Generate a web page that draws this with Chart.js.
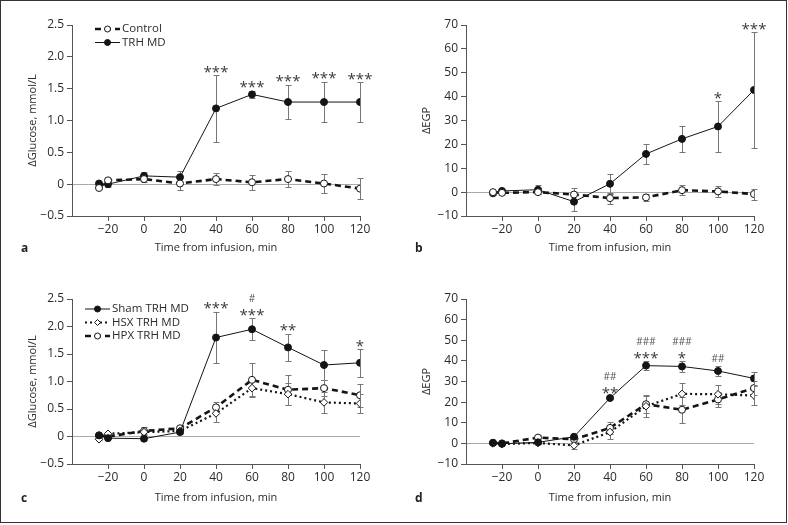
<!DOCTYPE html>
<html>
<head>
<meta charset="utf-8">
<script src="https://cdn.jsdelivr.net/npm/chart.js@4.4.0/dist/chart.umd.min.js"></script>
<style>
  body { margin: 0; background: #fff; font-family: "Open Sans", sans-serif; }
  #moldura { position: absolute; left: 0; top: 0; width: 785px; height: 521px; border: 1.5px solid #333; }
  canvas { position: absolute; }
  .letra { position: absolute; font-weight: bold; font-size: 12px; color: #222; }
</style>
</head>
<body>
<div id="moldura"></div>
<canvas id="ca" width="394" height="262" style="left:0;top:0"></canvas>
<canvas id="cb" width="394" height="262" style="left:394px;top:0"></canvas>
<canvas id="cc" width="394" height="263" style="left:0;top:262px"></canvas>
<canvas id="cd" width="394" height="263" style="left:394px;top:262px"></canvas>
<div class="letra" style="left:21px;top:239px">a</div>
<div class="letra" style="left:415px;top:239px">b</div>
<div class="letra" style="left:21px;top:489px">c</div>
<div class="letra" style="left:415px;top:489px">d</div>
<script>
/* Tempos de coleta (min) */
const TIMES = [-25, -20, 0, 20, 40, 60, 80, 100, 120];

/* a: ΔGlucose */
const A_CONTROL = [-0.06, 0.06, 0.08, 0.01, 0.08, 0.03, 0.08, 0.01, -0.07];
const A_CONTROL_SE = [0.02, 0.03, 0.05, 0.10, 0.09, 0.12, 0.12, 0.15, 0.17];
const A_TRH = [0.01, 0.00, 0.13, 0.11, 1.19, 1.41, 1.29, 1.29, 1.29];
const A_TRH_SE = [0.03, 0.04, 0.06, 0.10, 0.52, 0.06, 0.27, 0.32, 0.31];
const A_STARS = ['', '', '', '', '***', '***', '***', '***', '***'];

/* b: ΔEGP */
const B_CONTROL = [0.0, -0.3, 0.0, -1.0, -2.5, -2.2, 0.8, 0.3, -0.8];
const B_CONTROL_SE = [0.5, 0.5, 0.8, 2.7, 2.3, 1.5, 2.0, 2.4, 2.3];
const B_TRH = [-0.5, 0.5, 1.0, -4.0, 3.5, 16.0, 22.3, 27.5, 42.8];
const B_TRH_SE = [0.5, 0.5, 1.8, 4.0, 4.3, 4.3, 5.6, 10.5, 24.2];
const B_STARS = ['', '', '', '', '', '', '', '*', '***'];

/* c: ΔGlucose, três grupos */
const C_SHAM = [0.02, -0.03, -0.04, 0.08, 1.80, 1.95, 1.62, 1.30, 1.34];
const C_SHAM_SE = [0.02, 0.02, 0.03, 0.04, 0.47, 0.20, 0.25, 0.27, 0.25];
const C_HSX = [-0.05, 0.05, 0.08, 0.10, 0.42, 0.88, 0.77, 0.62, 0.60];
const C_HSX_SE = [0.02, 0.02, 0.04, 0.04, 0.15, 0.15, 0.20, 0.19, 0.17];
const C_HPX = [0.02, 0.00, 0.10, 0.15, 0.53, 1.03, 0.85, 0.88, 0.75];
const C_HPX_SE = [0.02, 0.02, 0.08, 0.06, 0.10, 0.31, 0.27, 0.15, 0.21];
const C_STARS = ['', '', '', '', '***', '***', '**', '', '*'];
const C_HASH = ['', '', '', '', '', '#', '', '', ''];

/* d: ΔEGP, três grupos */
const D_SHAM = [0.3, -0.2, 0.5, 3.2, 22.0, 37.7, 37.3, 35.1, 31.5];
const D_SHAM_SE = [0.5, 0.5, 0.8, 1.0, 0.6, 2.0, 2.5, 2.3, 3.0];
const D_HSX = [0.0, -0.3, 0.2, -1.0, 5.5, 18.0, 24.0, 23.8, 23.2];
const D_HSX_SE = [0.4, 0.4, 0.6, 1.8, 3.5, 5.0, 5.5, 4.5, 4.5];
const D_HPX = [0.2, 0.0, 2.8, 2.0, 7.5, 19.0, 16.3, 21.3, 26.8];
const D_HPX_SE = [0.4, 0.4, 1.3, 1.0, 3.0, 4.3, 6.3, 3.5, 3.5];
const D_STARS = ['', '', '', '', '**', '***', '*', '', ''];
const D_HASH = ['', '', '', '', '##', '###', '###', '##', ''];

const X_TICKS = [-20, 0, 20, 40, 60, 80, 100, 120];

Chart.defaults.font.family = "'Open Sans', sans-serif";
Chart.defaults.font.size = 11;
Chart.defaults.color = '#2b2b2b';

const INK = '#141414';
const AXIS = '#555';
const ERR = '#777';
const MINUS = '\u2212';

const ESTILOS = {
  cheia: { borderWidth: 1, borderDash: [], pointStyle: 'circle', pointBackgroundColor: INK, pointRadius: 3.5 },
  tracejada: { borderWidth: 2.6, borderDash: [6, 4], pointStyle: 'circle', pointBackgroundColor: '#fff', pointRadius: 3.5 },
  pontilhada: { borderWidth: 2.2, borderDash: [2, 3], pointStyle: 'rectRot', pointBackgroundColor: '#fff', pointRadius: 3.8 },
};

function serie(label, valores, se, estilo) {
  return Object.assign({
    label,
    data: TIMES.map((t, i) => ({ x: t, y: valores[i] })),
    errors: se,
    borderColor: INK,
    pointBorderColor: INK,
    pointBorderWidth: 1,
    pointHoverRadius: 3.5,
    tension: 0,
  }, ESTILOS[estilo]);
}

function fmtY(v, passo) {
  if (v === 0) return '0';
  const s = passo < 1 ? Math.abs(v).toFixed(1) : String(Math.abs(v));
  return (v < 0 ? MINUS : '') + s;
}

function marcador(ctx, estilo, x, y, r, fundo) {
  ctx.beginPath();
  if (estilo === 'rectRot') {
    ctx.moveTo(x, y - r); ctx.lineTo(x + r, y); ctx.lineTo(x, y + r); ctx.lineTo(x - r, y); ctx.closePath();
  } else {
    ctx.arc(x, y, r, 0, Math.PI * 2);
  }
  ctx.setLineDash([]);
  ctx.fillStyle = fundo;
  ctx.fill();
  ctx.lineWidth = 1;
  ctx.strokeStyle = INK;
  ctx.stroke();
}

/* barras de erro, asteriscos e legenda */
function extras(cfg) {
  return {
    id: 'extras',
    beforeDatasetsDraw(chart) {
      const { ctx, scales: { x, y } } = chart;
      ctx.save();
      ctx.strokeStyle = ERR;
      ctx.lineWidth = 1;
      chart.data.datasets.forEach(ds => {
        ds.data.forEach((p, i) => {
          const e = ds.errors[i];
          const px = Math.round(x.getPixelForValue(p.x)) + 0.5;
          const top = Math.round(y.getPixelForValue(p.y + e)) + 0.5;
          const bot = Math.round(y.getPixelForValue(p.y - e)) + 0.5;
          ctx.beginPath();
          ctx.moveTo(px, top); ctx.lineTo(px, bot);
          ctx.moveTo(px - 3, top); ctx.lineTo(px + 3, top);
          ctx.moveTo(px - 3, bot); ctx.lineTo(px + 3, bot);
          ctx.stroke();
        });
      });
      ctx.restore();
    },
    afterDatasetsDraw(chart) {
      const { ctx, scales: { x, y } } = chart;
      const principal = chart.data.datasets[cfg.ref];
      ctx.save();
      ctx.textAlign = 'center';
      ctx.textBaseline = 'alphabetic';
      TIMES.forEach((t, i) => {
        const px = x.getPixelForValue(t);
        const topo = y.getPixelForValue(principal.data[i].y + principal.errors[i]);
        const st = cfg.stars[i];
        const hs = cfg.hash ? cfg.hash[i] : '';
        let centro;
        if (st) {
          ctx.font = "15px 'Open Sans'";
          ctx.fillStyle = '#3a3a3a';
          ctx.fillText(st, px, topo + 1.5);
          centro = topo - 7 - 13;
        } else {
          centro = topo - 8;
        }
        if (hs) {
          ctx.font = "10px 'Open Sans'";
          ctx.fillStyle = '#555';
          ctx.fillText(hs, px, centro + 3.6);
        }
      });
      // legenda
      const { lx, ly } = cfg.legenda;
      chart.data.datasets.forEach((ds, k) => {
        const yy = ly + k * 13.5;
        ctx.beginPath();
        ctx.setLineDash(ds.borderDash);
        ctx.lineWidth = ds.borderWidth;
        ctx.strokeStyle = INK;
        ctx.moveTo(lx, yy); ctx.lineTo(lx + 25, yy);
        ctx.stroke();
        marcador(ctx, ds.pointStyle, lx + 12.5, yy, 3, ds.pointBackgroundColor);
        ctx.font = "11.5px 'Open Sans'";
        ctx.fillStyle = '#2b2b2b';
        ctx.textAlign = 'left';
        ctx.textBaseline = 'middle';
        ctx.fillText(ds.label, lx + 27, yy);
      });
      ctx.restore();
    },
  };
}

function montarPainel(id, datasets, o) {
  return new Chart(document.getElementById(id), {
    type: 'line',
    data: { datasets },
    options: {
      responsive: false,
      animation: false,
      events: [],
      layout: { padding: { left: 20, top: o.top, right: 34, bottom: o.bottom } },
      plugins: { legend: { display: false }, tooltip: { enabled: false } },
      scales: {
        x: {
          type: 'linear', min: -40, max: 120,
          afterFit: s => { s.height = 46; },
          afterBuildTicks: s => { s.ticks = X_TICKS.map(v => ({ value: v })); },
          ticks: { padding: 1, maxRotation: 0, font: { size: 12 }, callback: v => (v < 0 ? MINUS + (-v) : String(v)) },
          grid: { drawOnChartArea: false, tickColor: AXIS, tickLength: 5 },
          border: { color: AXIS, width: 1 },
          title: { display: true, text: 'Time from infusion, min', padding: { top: 0, bottom: o.titleBottom } },
        },
        y: {
          min: o.ymin, max: o.ymax,
          afterFit: s => { s.width = 52; },
          ticks: { stepSize: o.step, padding: 3, font: { size: 12 }, callback: v => fmtY(v, o.step) },
          grid: {
            color: c => (c.tick && c.tick.value === 0 ? '#aaa' : 'rgba(0,0,0,0)'),
            tickColor: AXIS, tickLength: 5,
          },
          border: { color: AXIS, width: 1 },
          title: { display: true, text: o.ytitle, padding: { top: 6, bottom: 0 } },
        },
      },
    },
    plugins: [extras(o)],
  });
}

montarPainel('ca', [
  serie('Control', A_CONTROL, A_CONTROL_SE, 'tracejada'),
  serie('TRH MD', A_TRH, A_TRH_SE, 'cheia'),
], { top: 25, bottom: 0, titleBottom: 8, ymin: -0.5, ymax: 2.5, step: 0.5, ytitle: '\u0394Glucose, mmol/L',
     stars: A_STARS, ref: 1, legenda: { lx: 95, ly: 29 } });

montarPainel('cb', [
  serie('Control', B_CONTROL, B_CONTROL_SE, 'tracejada'),
  serie('TRH MD', B_TRH, B_TRH_SE, 'cheia'),
], { top: 25, bottom: 0, titleBottom: 8, ymin: -10, ymax: 70, step: 10, ytitle: '\u0394EGP',
     stars: B_STARS, ref: 1, legenda: { lx: -200, ly: -200 } });

montarPainel('cc', [
  serie('Sham TRH MD', C_SHAM, C_SHAM_SE, 'cheia'),
  serie('HSX TRH MD', C_HSX, C_HSX_SE, 'pontilhada'),
  serie('HPX TRH MD', C_HPX, C_HPX_SE, 'tracejada'),
], { top: 37, bottom: 15, titleBottom: 6, ymin: -0.5, ymax: 2.5, step: 0.5, ytitle: '\u0394Glucose, mmol/L',
     stars: C_STARS, hash: C_HASH, ref: 0, legenda: { lx: 85, ly: 47 } });

montarPainel('cd', [
  serie('Sham TRH MD', D_SHAM, D_SHAM_SE, 'cheia'),
  serie('HSX TRH MD', D_HSX, D_HSX_SE, 'pontilhada'),
  serie('HPX TRH MD', D_HPX, D_HPX_SE, 'tracejada'),
], { top: 37, bottom: 15, titleBottom: 6, ymin: -10, ymax: 70, step: 10, ytitle: '\u0394EGP',
     stars: D_STARS, hash: D_HASH, ref: 0, legenda: { lx: -200, ly: -200 } });
</script>
</body>
</html>
